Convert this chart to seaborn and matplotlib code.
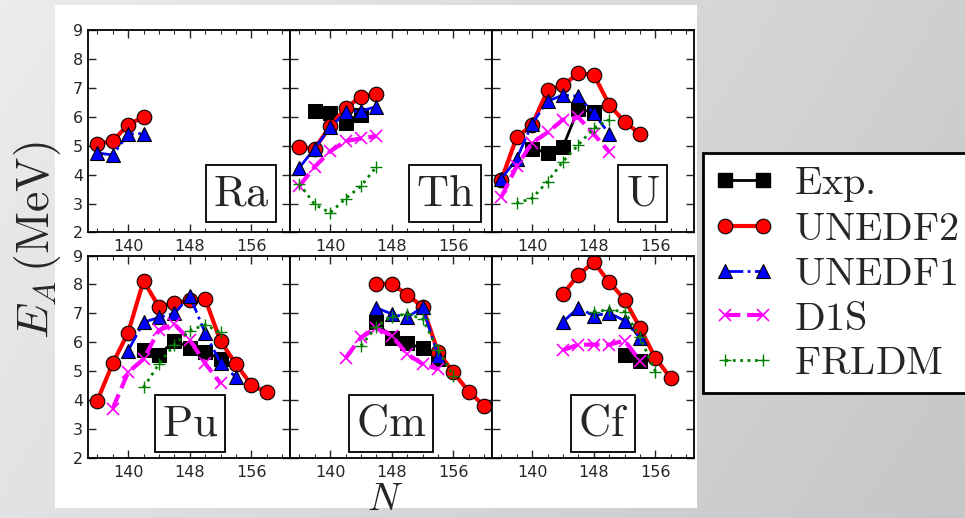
import numpy as np
import matplotlib
matplotlib.use("Agg")
import matplotlib.pyplot as plt
from matplotlib.lines import Line2D
from matplotlib.patches import Rectangle
from matplotlib.ticker import MultipleLocator
import seaborn as sns

sns.set_style("ticks")
plt.rcParams['font.family'] = ['DejaVu Sans']
plt.rcParams['mathtext.fontset'] = 'cm'

# ---------------- data ----------------
elements = ["Ra", "Th", "U", "Pu", "Cm", "Cf"]

ra_u2_N = [136, 138, 140, 142]
ra_u2 = [5.07, 5.16, 5.72, 6.00]
ra_u1_N = [136, 138, 140, 142]
ra_u1 = [4.75, 4.68, 5.40, 5.42]

th_exp_N = [138, 140, 142, 144]
th_exp = [6.19, 6.13, 5.80, 6.05]
th_u2_N = [136, 138, 140, 142, 144, 146]
th_u2 = [4.95, 4.90, 5.67, 6.29, 6.70, 6.80]
th_u1_N = [136, 138, 140, 142, 144, 146]
th_u1 = [4.24, 4.90, 5.63, 6.15, 6.20, 6.35]
th_d1s_N = [136, 138, 140, 142, 144, 146]
th_d1s = [3.60, 4.27, 4.80, 5.16, 5.25, 5.33]
th_fr_N = [136, 138, 140, 142, 144, 146]
th_fr = [3.69, 2.97, 2.68, 3.17, 3.60, 4.27]

u_exp_N = [140, 142, 144, 146, 148]
u_exp = [4.90, 4.76, 4.96, 6.27, 6.15]
u_u2_N = [136, 138, 140, 142, 144, 146, 148, 150, 152, 154]
u_u2 = [3.81, 5.29, 5.72, 6.91, 7.09, 7.50, 7.46, 6.42, 5.82, 5.41]
u_u1_N = [136, 138, 140, 142, 144, 146, 148, 150]
u_u1 = [3.86, 4.54, 5.76, 6.54, 6.75, 6.71, 6.12, 5.41]
u_d1s_N = [136, 138, 140, 142, 144, 146, 148, 150]
u_d1s = [3.22, 4.29, 5.10, 5.46, 5.90, 5.98, 5.40, 4.79]
u_fr_N = [138, 140, 142, 144, 146, 148, 150]
u_fr = [3.01, 3.18, 3.76, 4.45, 5.03, 5.60, 5.90]

pu_exp_N = [142, 144, 146, 148, 150, 152]
pu_exp = [5.73, 5.56, 6.06, 5.82, 5.67, 5.42]
pu_u2_N = [136, 138, 140, 142, 144, 146, 148, 150, 152, 154, 156, 158]
pu_u2 = [3.98, 5.27, 6.33, 8.12, 7.23, 7.35, 7.46, 7.50, 6.03, 5.25, 4.52, 4.27]
pu_u1_N = [140, 142, 144, 146, 148, 150, 152, 154]
pu_u1 = [5.71, 6.69, 6.86, 7.00, 7.61, 6.32, 5.28, 4.79]
pu_d1s_N = [138, 140, 142, 144, 146, 148, 150, 152]
pu_d1s = [3.71, 4.96, 5.42, 6.42, 6.63, 6.08, 5.27, 4.58]
pu_fr_N = [142, 144, 146, 148, 150, 152]
pu_fr = [4.44, 5.25, 5.92, 6.40, 6.61, 6.34]

cm_exp_N = [146, 148, 150, 152, 154]
cm_exp = [6.69, 6.15, 5.97, 5.79, 5.42]
cm_u2_N = [146, 148, 150, 152, 154, 156, 158, 160]
cm_u2 = [8.02, 8.02, 7.65, 7.23, 5.67, 4.96, 4.29, 3.80]
cm_u1_N = [146, 148, 150, 152, 154]
cm_u1 = [7.19, 6.98, 6.86, 7.21, 5.54]
cm_d1s_N = [142, 144, 146, 148, 150, 152, 154]
cm_d1s = [5.45, 6.17, 6.49, 6.23, 5.59, 5.25, 5.07]
cm_fr_N = [144, 146, 148, 150, 152, 154, 156]
cm_fr = [5.88, 6.54, 6.89, 6.98, 6.81, 5.73, 4.84]

cf_exp_N = [152, 154]
cf_exp = [5.57, 5.36]
cf_u2_N = [144, 146, 148, 150, 152, 154, 156, 158]
cf_u2 = [7.67, 8.33, 8.77, 8.08, 7.48, 6.50, 5.45, 4.76]
cf_u1_N = [144, 146, 148, 150, 152, 154]
cf_u1 = [6.71, 7.19, 6.92, 7.01, 6.75, 6.15]
cf_d1s_N = [144, 146, 148, 150, 152, 154]
cf_d1s = [5.73, 5.92, 5.92, 5.92, 6.06, 5.36]
cf_fr_N = [148, 150, 152, 154, 156]
cf_fr = [7.06, 7.12, 7.06, 6.17, 4.99]

models = ["Exp.", "UNEDF2", "UNEDF1", "D1S", "FRLDM"]
x_ticks = [140, 148, 156]
y_ticks = [2, 3, 4, 5, 6, 7, 8, 9]

panel_data = {
    "Ra": {"UNEDF2": (ra_u2_N, ra_u2), "UNEDF1": (ra_u1_N, ra_u1)},
    "Th": {"Exp.": (th_exp_N, th_exp), "UNEDF2": (th_u2_N, th_u2), "UNEDF1": (th_u1_N, th_u1),
           "D1S": (th_d1s_N, th_d1s), "FRLDM": (th_fr_N, th_fr)},
    "U": {"Exp.": (u_exp_N, u_exp), "UNEDF2": (u_u2_N, u_u2), "UNEDF1": (u_u1_N, u_u1),
          "D1S": (u_d1s_N, u_d1s), "FRLDM": (u_fr_N, u_fr)},
    "Pu": {"Exp.": (pu_exp_N, pu_exp), "UNEDF2": (pu_u2_N, pu_u2), "UNEDF1": (pu_u1_N, pu_u1),
           "D1S": (pu_d1s_N, pu_d1s), "FRLDM": (pu_fr_N, pu_fr)},
    "Cm": {"Exp.": (cm_exp_N, cm_exp), "UNEDF2": (cm_u2_N, cm_u2), "UNEDF1": (cm_u1_N, cm_u1),
           "D1S": (cm_d1s_N, cm_d1s), "FRLDM": (cm_fr_N, cm_fr)},
    "Cf": {"Exp.": (cf_exp_N, cf_exp), "UNEDF2": (cf_u2_N, cf_u2), "UNEDF1": (cf_u1_N, cf_u1),
           "D1S": (cf_d1s_N, cf_d1s), "FRLDM": (cf_fr_N, cf_fr)},
}

styles = {
    "Exp.":   dict(color="black", linestyle="-", linewidth=2.0, marker="s", markersize=9.5,
                   markeredgecolor="black", markerfacecolor="black"),
    "UNEDF2": dict(color="#ff0000", linestyle="-", linewidth=3.0, marker="o", markersize=10.5,
                   markeredgecolor="black", markeredgewidth=0.8, markerfacecolor="#ff0000"),
    "UNEDF1": dict(color="#0000ff", linestyle="-.", linewidth=2.0, marker="^", markersize=10.5,
                   markeredgecolor="black", markeredgewidth=0.8, markerfacecolor="#0000ff"),
    "D1S":    dict(color="#ff00ff", linestyle="--", linewidth=3.0, marker="x", markersize=9,
                   markeredgewidth=1.2, markeredgecolor="#ff00ff"),
    "FRLDM":  dict(color="#008000", linestyle=":", linewidth=2.0, marker="+", markersize=9,
                   markeredgewidth=1.0, markeredgecolor="#008000"),
}

label_pos = {"Ra": (0.757, 0.193), "Th": (0.768, 0.193), "U": (0.745, 0.193),
             "Pu": (0.505, 0.172), "Cm": (0.50, 0.172), "Cf": (0.55, 0.172)}

# ---------------- figure ----------------
W, H = 965, 518
fig, axes = plt.subplots(2, 3, figsize=(W / 100, H / 100), dpi=100)
fig.subplots_adjust(left=88 / W, right=694 / W, top=1 - 30 / H, bottom=1 - 458 / H,
                    wspace=0.0, hspace=0.114)

# background gradient + white page
bg = fig.add_axes([0, 0, 1, 1], zorder=-10)
grad = np.linspace(0, 1, 256)[None, :] * 0.75 + np.linspace(0, 1, 64)[:, None] * 0.25
bg.imshow(grad, cmap=matplotlib.colors.LinearSegmentedColormap.from_list(
    "g", ["#ececec", "#c6c6c6"]), aspect="auto", extent=[0, 1, 0, 1], vmin=0, vmax=1)
bg.set_axis_off()
fig.patches.append(Rectangle((55 / W, 1 - 508 / H), (697 - 55) / W, (508 - 5) / H,
                             transform=fig.transFigure, facecolor="white",
                             edgecolor="none", zorder=-5))

for idx, (ax, el) in enumerate(zip(axes.flat, elements)):
    for m in models:
        if m in panel_data[el]:
            Nv, Ev = panel_data[el][m]
            sns.lineplot(x=Nv, y=Ev, ax=ax, legend=False, sort=False, **styles[m])
    ax.set_xlim(134.8, 161)
    ax.set_ylim(2, 9)
    ax.set_xticks(x_ticks)
    ax.xaxis.set_minor_locator(MultipleLocator(2))
    ax.set_yticks(y_ticks)
    ax.tick_params(which="both", direction="in", top=True, right=True, labelsize=11.5)
    ax.tick_params(which="major", length=6, width=1.0)
    ax.tick_params(which="minor", length=3, width=0.8)
    ax.tick_params(axis="x", pad=5)
    if idx % 3 != 0:
        ax.tick_params(labelleft=False)
    for sp in ax.spines.values():
        sp.set_linewidth(1.3)
        sp.set_color("black")
        sp.set_visible(True)
    ax.set_xlabel("")
    ax.set_ylabel("")
    ax.set_facecolor("white")
    lx, ly = label_pos[el]
    ax.text(lx, ly, r"$\mathrm{%s}$" % el, transform=ax.transAxes, ha="center", va="center",
            fontsize=32, zorder=10,
            bbox=dict(boxstyle="square,pad=0.16", facecolor="white", edgecolor="black",
                      linewidth=1.3))

fig.text(38 / W, 1 - 240 / H, r"$E_A\,(\mathrm{MeV})$", rotation=90, ha="center",
         va="center", fontsize=33)
fig.text(385 / W, 1 - 499 / H, r"$N$", ha="center", va="center", fontsize=28)

handles = []
for m in models:
    st = dict(styles[m])
    handles.append(Line2D([0], [0], **st))
labels = [r"$\mathrm{%s}$" % m for m in models]
leg = fig.legend(handles, labels, loc="upper left", bbox_to_anchor=(703 / W, 1 - 153 / H),
                 bbox_transform=fig.transFigure, borderaxespad=0.0, numpoints=2,
                 fontsize=29, handlelength=1.55, handletextpad=0.45, labelspacing=0.12,
                 borderpad=0.25, frameon=True, fancybox=False)
leg.get_frame().set_edgecolor("black")
leg.get_frame().set_linewidth(2.0)
leg.get_frame().set_facecolor("white")
leg.get_frame().set_alpha(1.0)

fig.savefig("out.png", dpi=100)
